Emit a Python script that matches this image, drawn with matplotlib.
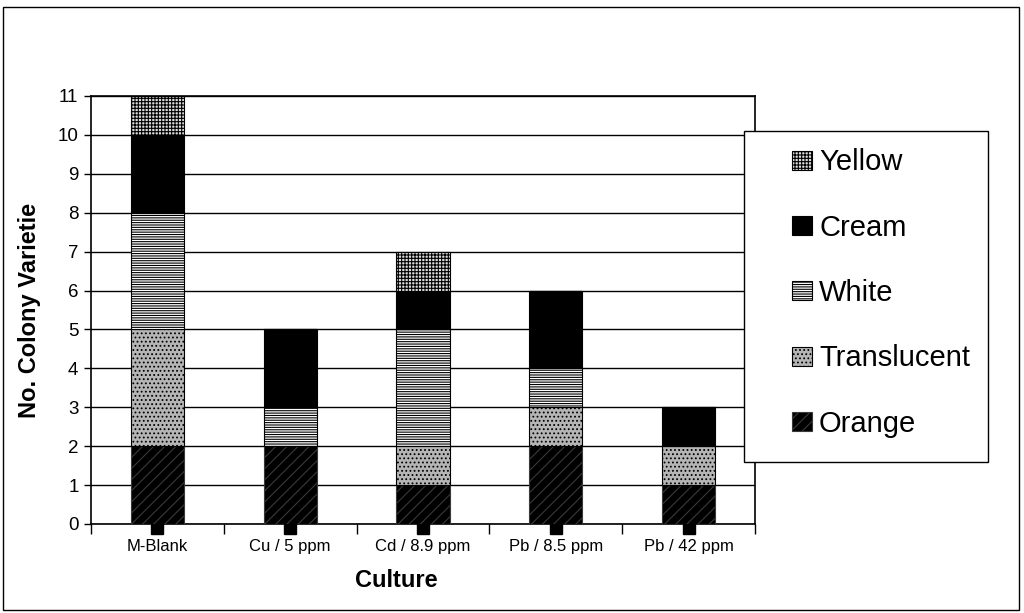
import matplotlib
matplotlib.use("Agg")
import matplotlib.pyplot as plt
import numpy as np
from matplotlib.patches import Rectangle

plt.rcParams['font.family'] = ['Liberation Sans', 'DejaVu Sans']
plt.rcParams['hatch.linewidth'] = 0.8

categories = ["M-Blank", "Cu / 5 ppm", "Cd / 8.9 ppm", "Pb / 8.5 ppm", "Pb / 42 ppm"]
orange = [2, 2, 1, 2, 1]
translucent = [3, 0, 1, 1, 1]
white = [3, 1, 3, 1, 0]
cream = [2, 2, 1, 2, 1]
yellow = [1, 0, 1, 0, 0]
y_ticks = list(range(0, 12))

series = [
    ("Orange", orange, dict(facecolor="black", edgecolor="#3a3a3a", hatch="///")),
    ("Translucent", translucent, dict(facecolor="#b5b5b5", edgecolor="black", hatch="....")),
    ("White", white, dict(facecolor="white", edgecolor="black", hatch="-------")),
    ("Cream", cream, dict(facecolor="black", edgecolor="black")),
    ("Yellow", yellow, dict(facecolor="#dddddd", edgecolor="black", hatch="+++++")),
]

W, H = 1024, 613
fig = plt.figure(figsize=(W/100, H/100), dpi=100)
ax = fig.add_axes([91/W, 1-524/H, (755-91)/W, (524-96)/H])

x = np.arange(len(categories))
bottom = np.zeros(len(categories))
handles = []
for name, vals, style in series:
    vals = np.array(vals, dtype=float)
    b = ax.bar(x, vals, 0.4, bottom=bottom, label=name, linewidth=0.8, zorder=3, **style)
    handles.append(b)
    bottom += vals

ax.plot(x, [-0.1]*len(x), 's', color='black', ms=8, clip_on=False, zorder=2)

ax.set_xlim(-0.5, len(categories)-0.5)
ax.set_ylim(0, 11)
ax.set_yticks(y_ticks)
ax.set_yticklabels([str(t) for t in y_ticks], fontsize=13.5)
ax.set_xticks(x)
ax.set_xticklabels(categories, fontsize=12)
ax.tick_params(axis='x', which='major', length=0, pad=11)
ax.set_xticks(np.arange(-0.5, len(categories)), minor=True)
ax.tick_params(axis='x', which='minor', length=7, width=1, direction='out')
ax.tick_params(axis='y', length=5, width=1, direction='out', pad=4)
ax.grid(axis='y', color='black', linewidth=1, zorder=0)
ax.set_axisbelow(True)
for sp in ax.spines.values():
    sp.set_linewidth(1.2)
    sp.set_color('black')

ax.set_ylabel("No. Colony Varietie", fontsize=17, fontweight='bold')
ax.yaxis.set_label_coords((41-91)/664, 0.5)
ax.set_xlabel("Culture", fontsize=17, fontweight='bold')
ax.xaxis.set_label_coords((396-91)/664, -(569-524)/428)

# legend box drawn separately
fig.patches.append(Rectangle((744/W, 1-462/H), (988-744)/W, (462-131)/H, transform=fig.transFigure,
                             facecolor='white', edgecolor='black', linewidth=1, zorder=5))
leg = fig.legend(handles=handles[::-1], labels=[h.get_label() for h in handles[::-1]],
                 loc='center left', bbox_to_anchor=(792/W, 1-293/H),
                 fontsize=21, frameon=False, labelspacing=1.28, handlelength=0.68,
                 handleheight=0.62, handletextpad=0.25, borderpad=0,
                 borderaxespad=0)
leg.set_zorder(6)

fig.patches.append(Rectangle((3/W, 3/H), 1016/W, 603/H, transform=fig.transFigure,
                             fill=False, edgecolor='black', linewidth=1))

fig.savefig("out.png", dpi=100)
